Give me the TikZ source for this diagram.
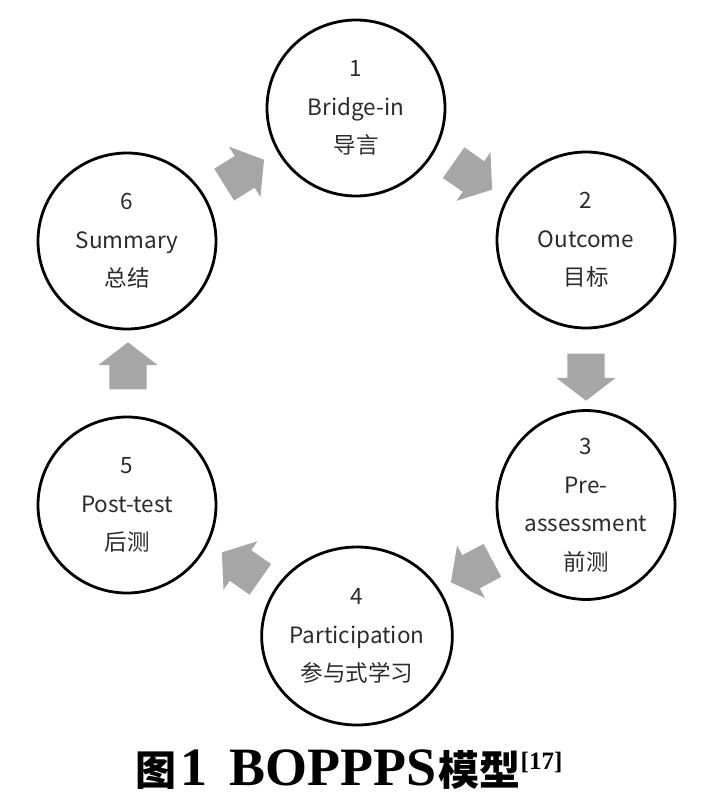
\documentclass[tikz,border=0pt]{standalone}
\usepackage{fontspec}
\setmainfont{Noto Sans CJK SC}
\newfontfamily\capserif{Liberation Serif}
\newfontfamily\capcjk{Noto Sans CJK SC}
\usetikzlibrary{shapes.arrows,shapes.geometric}
\definecolor{arrowgray}{HTML}{A6A6A6}
\definecolor{txtgray}{HTML}{2B2B2B}
\tikzset{
  stage/.style={ellipse, draw=black, line width=2.8pt, minimum width=178pt, minimum height=176pt,
    inner sep=0pt, align=center, text=txtgray, font=\fontsize{22.5}{38.5}\selectfont},
  blockarr/.style={single arrow, fill=arrowgray, draw=none, minimum height=47pt,
    single arrow head extend=11pt, inner xsep=0pt, inner ysep=18.5pt,
    single arrow tip angle=105}
}
\begin{document}
\begin{tikzpicture}[x=1pt,y=-1pt]
\useasboundingbox (0,0) rectangle (707,800);
\node[stage] (s1) at (356,108) {1\\Bridge-in\\导言};
\node[stage] (s2) at (586,240) {2\\Outcome\\目标};
\node[stage] (s3) at (586,505) {3\\Pre-\\assessment\\前测};
\node[stage, minimum width=188pt, minimum height=178pt] (s4) at (357,636) {4\\Participation\\参与式学习};
\node[stage] (s5) at (127,505) {5\\Post-test\\后测};
\node[stage] (s6) at (127,241) {6\\Summary\\总结};
\node[blockarr, rotate=32] (a1) at (238,176) {};
\node[blockarr, rotate=-35] (a2) at (467,172) {};
\node[blockarr, rotate=-90] (a3) at (586,370) {};
\node[blockarr, rotate=-152] (a4) at (478,568) {};
\node[blockarr, rotate=145] (a5) at (247,570) {};
\node[blockarr, rotate=90] (a6) at (128,373) {};
\node[anchor=base, inner sep=0pt] (cap) at (349,785)
  {{\capcjk\bfseries\fontsize{41}{42}\selectfont 图}\hspace{4pt}{\capserif\bfseries\fontsize{54}{55}\selectfont 1\hspace{22pt}BOPPPS}\hspace{2pt}{\capcjk\bfseries\fontsize{41}{42}\selectfont 模型}{\capserif\bfseries\raisebox{16pt}{\fontsize{25}{25}\selectfont[17]}}};
\end{tikzpicture}
\end{document}
